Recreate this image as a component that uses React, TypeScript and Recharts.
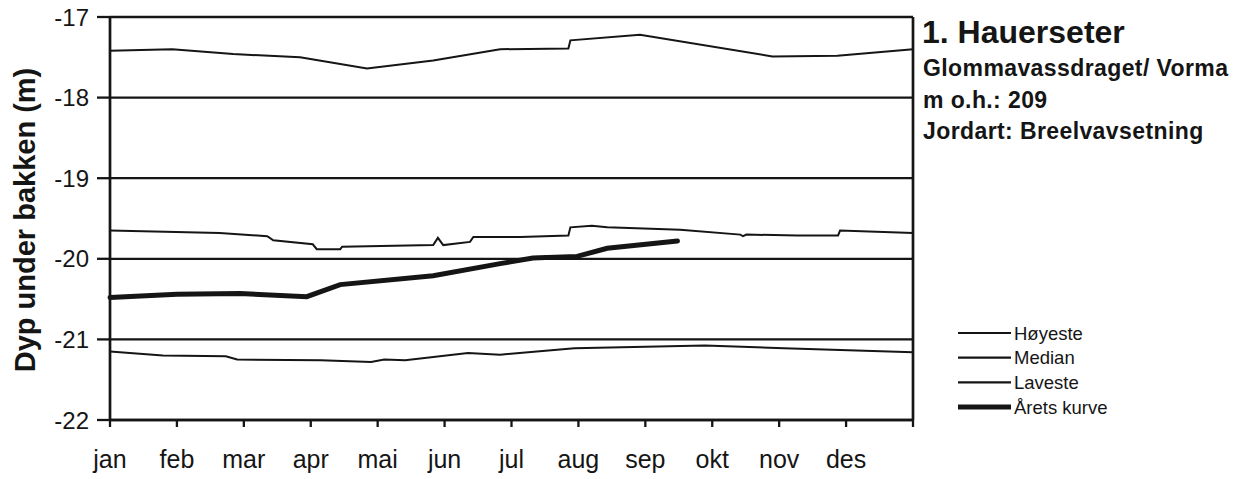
import { CartesianGrid, Line, LineChart, ReferenceLine, XAxis, YAxis } from "recharts"

const INK = "#151515"
const FONT = "'Liberation Sans', Arial, Helvetica, sans-serif"

// måneder (x = månedsnummer fra 0 = 1. jan)
const months = ["jan", "feb", "mar", "apr", "mai", "jun", "jul", "aug", "sep", "okt", "nov", "des"]
const monthTicks = [0, 1, 2, 3, 4, 5, 6, 7, 8, 9, 10, 11, 12]
const depthTicks = [-22, -21, -20, -19, -18, -17]

const hoyesteMonth = [0, 0.93, 1.84, 2.84, 3.84, 4.83, 5.83, 6.85, 6.88, 7.92, 9.9, 10.87, 12]
const hoyesteDepth = [-17.42, -17.4, -17.46, -17.5, -17.64, -17.54, -17.4, -17.39, -17.29, -17.22, -17.49, -17.48, -17.4]

const medianMonth = [
  0, 1.64, 2.35, 2.44, 3.03, 3.09, 3.44, 3.47, 4.83, 4.9, 4.98, 5.38, 5.43, 6.13, 6.85, 6.88, 7.2, 7.43, 8.52,
  9.42, 9.46, 9.51, 10.27, 10.88, 10.91, 12,
]
const medianDepth = [
  -19.65, -19.68, -19.72, -19.77, -19.82, -19.88, -19.88, -19.85, -19.83, -19.74, -19.83, -19.79, -19.73, -19.73,
  -19.71, -19.61, -19.59, -19.61, -19.64, -19.7, -19.72, -19.7, -19.71, -19.71, -19.65, -19.68,
]

const lavesteMonth = [0, 0.79, 1.73, 1.9, 3.15, 3.9, 4.1, 4.41, 5.35, 5.83, 6.94, 8.89, 10.07, 12]
const lavesteDepth = [
  -21.15, -21.2, -21.21, -21.25, -21.26, -21.28, -21.25, -21.26, -21.17, -21.19, -21.11, -21.075, -21.11, -21.16,
]

const aretsMonth = [0, 1.0, 1.94, 2.94, 3.44, 4.83, 5.83, 6.32, 6.98, 7.43, 8.48]
const aretsDepth = [-20.48, -20.44, -20.43, -20.47, -20.32, -20.21, -20.06, -19.99, -19.97, -19.87, -19.78]

const toPoints = (xs: number[], ys: number[]) => xs.map((x, i) => ({ x, y: ys[i] }))

const series = [
  { name: "Høyeste", data: toPoints(hoyesteMonth, hoyesteDepth), width: 2 },
  { name: "Median", data: toPoints(medianMonth, medianDepth), width: 2 },
  { name: "Laveste", data: toPoints(lavesteMonth, lavesteDepth), width: 2 },
  { name: "Årets kurve", data: toPoints(aretsMonth, aretsDepth), width: 5 },
]

const infoLines = ["Glommavassdraget/ Vorma", "m o.h.: 209", "Jordart: Breelvavsetning"]

export default function App() {
  return (
    <div style={{ position: "absolute", left: 0, top: 0, width: 1255, height: 479, background: "#fff" }}>
      <LineChart width={1255} height={479} margin={{ top: 17, right: 342, bottom: 19, left: 50 }}>
        <CartesianGrid vertical={false} stroke={INK} strokeWidth={2.3} />
        <XAxis
          dataKey="x"
          type="number"
          domain={[0, 12]}
          ticks={monthTicks}
          interval={0}
          tickFormatter={(v: number) => months[v] ?? ""}
          height={40}
          tickSize={7}
          tickMargin={23}
          axisLine={{ stroke: INK, strokeWidth: 2.5 }}
          tickLine={{ stroke: INK, strokeWidth: 2.3 }}
          tick={{ fill: INK, fontSize: 25, fontFamily: FONT }}
        />
        <YAxis
          type="number"
          domain={[-22, -17]}
          ticks={depthTicks}
          width={60}
          tickSize={13}
          tickMargin={8}
          axisLine={{ stroke: INK, strokeWidth: 2.7 }}
          tickLine={{ stroke: INK, strokeWidth: 2.3 }}
          tick={{ fill: INK, fontSize: 24, fontFamily: FONT }}
        />
        <ReferenceLine x={12} stroke={INK} strokeWidth={2.7} />
        {series.map((s) => (
          <Line
            key={s.name}
            data={s.data}
            dataKey="y"
            name={s.name}
            type="linear"
            stroke={INK}
            strokeWidth={s.width}
            strokeLinecap="round"
            dot={false}
            activeDot={false}
            isAnimationActive={false}
          />
        ))}
      </LineChart>

      <svg
        width={1255}
        height={479}
        style={{ position: "absolute", left: 0, top: 0, pointerEvents: "none" }}
        fontFamily={FONT}
        fill={INK}
      >
        <text x={35} y={220} fontSize={29} fontWeight="bold" textAnchor="middle" transform="rotate(-90 35 220)">
          Dyp under bakken (m)
        </text>
        <text x={922} y={43} fontSize={32} fontWeight="bold">
          1. Hauerseter
        </text>
        {infoLines.map((t, i) => (
          <text key={t} x={923} y={76 + i * 31.5} fontSize={23} fontWeight="bold" letterSpacing={0.4}>
            {t}
          </text>
        ))}
        {series.map((s, i) => {
          const y = 333 + i * 24.7
          return (
            <g key={s.name}>
              <line x1={958} x2={1011} y1={y} y2={y} stroke={INK} strokeWidth={s.width === 5 ? 5 : 2.2} />
              <text x={1014} y={y + 6.5} fontSize={18.5}>
                {s.name}
              </text>
            </g>
          )
        })}
      </svg>
    </div>
  )
}
